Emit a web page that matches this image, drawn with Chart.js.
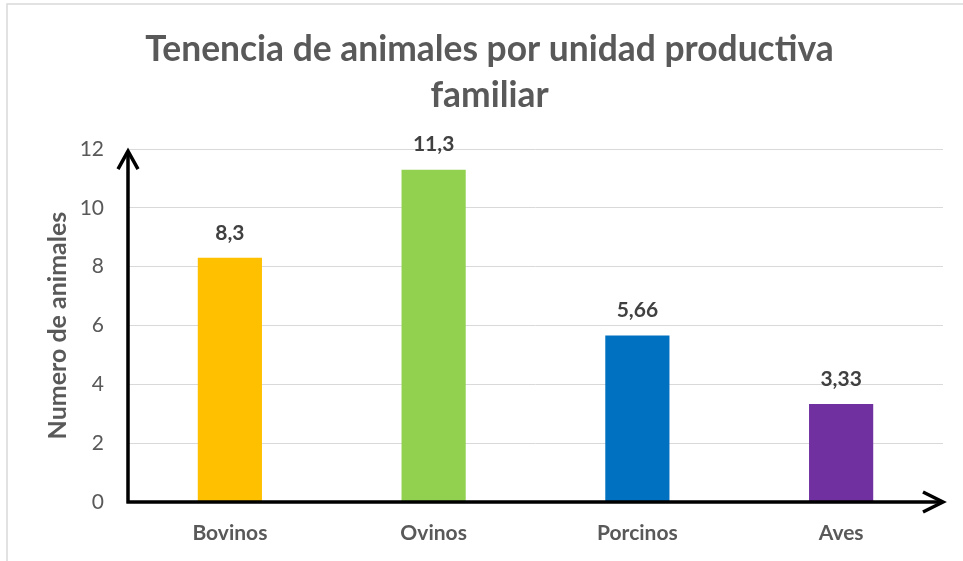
<!DOCTYPE html>
<html>
<head>
<meta charset="utf-8">
<script src="https://cdn.jsdelivr.net/npm/chart.js@4"></script>
<style>
  html, body { margin: 0; padding: 0; background: #ffffff; }
  #wrap { position: relative; width: 963px; height: 561px; }
</style>
</head>
<body>
<div id="wrap"><canvas id="chart"></canvas></div>
<script>
// Animals per family production unit
const categories = ['Bovinos', 'Ovinos', 'Porcinos', 'Aves'];
const animalCounts = [8.3, 11.3, 5.66, 3.33];
const valueLabels = ['8,3', '11,3', '5,66', '3,33'];
const barColors = ['#FFC000', '#92D050', '#0070C0', '#7030A0'];
const yTicks = [0, 2, 4, 6, 8, 10, 12];

const FONT = "'Lato', 'Open Sans', 'Liberation Sans', sans-serif";

// Light frame around the whole chart
const framePlugin = {
  id: 'frame',
  beforeDraw(chart) {
    const ctx = chart.ctx;
    ctx.save();
    ctx.fillStyle = '#ffffff';
    ctx.fillRect(0, 0, chart.width, chart.height);
    ctx.strokeStyle = '#d9d9d9';
    ctx.lineWidth = 1.5;
    ctx.beginPath();
    ctx.moveTo(7, chart.height + 5);
    ctx.lineTo(7, 4);
    ctx.lineTo(chart.width + 5, 4);
    ctx.stroke();
    ctx.restore();
  }
};

// Black axes with arrowheads
const arrowAxesPlugin = {
  id: 'arrowAxes',
  afterDatasetsDraw(chart) {
    const ctx = chart.ctx;
    const y = chart.scales.y;
    const x0 = chart.chartArea.left;
    const y0 = y.getPixelForValue(0);
    const yTop = y.getPixelForValue(12) + 2;
    const xEnd = chart.chartArea.right;
    ctx.save();
    ctx.strokeStyle = '#000000';
    ctx.lineWidth = 3.5;
    ctx.lineCap = 'butt';
    ctx.lineJoin = 'miter';
    ctx.beginPath();
    ctx.moveTo(x0, y0 + 1.5);
    ctx.lineTo(x0, yTop + 2);
    ctx.moveTo(x0 - 1.5, y0);
    ctx.lineTo(xEnd - 2, y0);
    ctx.stroke();
    // arrowheads
    ctx.beginPath();
    ctx.moveTo(x0 - 10, yTop + 18);
    ctx.lineTo(x0, yTop);
    ctx.lineTo(x0 + 10, yTop + 18);
    ctx.moveTo(xEnd - 20, y0 - 10);
    ctx.lineTo(xEnd, y0);
    ctx.lineTo(xEnd - 20, y0 + 10);
    ctx.stroke();
    ctx.restore();
  }
};

// Value labels above each bar
const valueLabelPlugin = {
  id: 'valueLabels',
  afterDatasetsDraw(chart) {
    const ctx = chart.ctx;
    const meta = chart.getDatasetMeta(0);
    ctx.save();
    ctx.font = 'bold 21px ' + FONT;
    ctx.fillStyle = '#404040';
    ctx.textAlign = 'center';
    ctx.textBaseline = 'middle';
    meta.data.forEach((bar, i) => {
      ctx.fillText(valueLabels[i], bar.x, bar.y - 25);
    });
    ctx.restore();
  }
};

new Chart(document.getElementById('chart'), {
  type: 'bar',
  data: {
    labels: categories,
    datasets: [{
      data: animalCounts,
      backgroundColor: barColors,
      borderWidth: 0,
      barPercentage: 0.63,
      categoryPercentage: 0.5
    }]
  },
  options: {
    responsive: true,
    maintainAspectRatio: false,
    animation: false,
    layout: { padding: { left: 18, right: 2, top: 0, bottom: 0 } },
    plugins: {
      legend: { display: false },
      tooltip: { enabled: false },
      title: {
        display: true,
        text: ['Tenencia de animales por unidad productiva', 'familiar'],
        color: '#595959',
        font: { family: FONT, size: 35.4, weight: 'bold', lineHeight: 1.3 },
        padding: { top: 27, bottom: 30 }
      }
    },
    scales: {
      x: {
        grid: { display: false, drawTicks: false },
        border: { display: false },
        ticks: {
          color: '#595959',
          padding: 19,
          font: { family: FONT, size: 21, weight: 'bold' }
        },
        afterFit(scale) { scale.height = 59; }
      },
      y: {
        min: 0,
        max: 12,
        afterBuildTicks(scale) { scale.ticks = yTicks.map(v => ({ value: v })); },
        grid: { color: '#d9d9d9', lineWidth: 1, drawTicks: false },
        border: { display: false },
        ticks: {
          color: '#595959',
          padding: 24,
          font: { family: FONT, size: 21 }
        },
        title: {
          display: true,
          text: 'Numero de animales',
          color: '#595959',
          font: { family: FONT, size: 25, weight: 'bold' },
          padding: { top: 25, bottom: 0 }
        },
        afterFit(scale) { scale.width = 110; }
      },
      // empty right-hand margin beside the plot
      yRight: {
        position: 'right',
        display: true,
        min: 0,
        max: 12,
        grid: { display: false, drawTicks: false },
        border: { display: false },
        ticks: { display: false },
        afterFit(scale) { scale.width = 18; }
      }
    }
  },
  plugins: [framePlugin, valueLabelPlugin, arrowAxesPlugin]
});
</script>
</body>
</html>
